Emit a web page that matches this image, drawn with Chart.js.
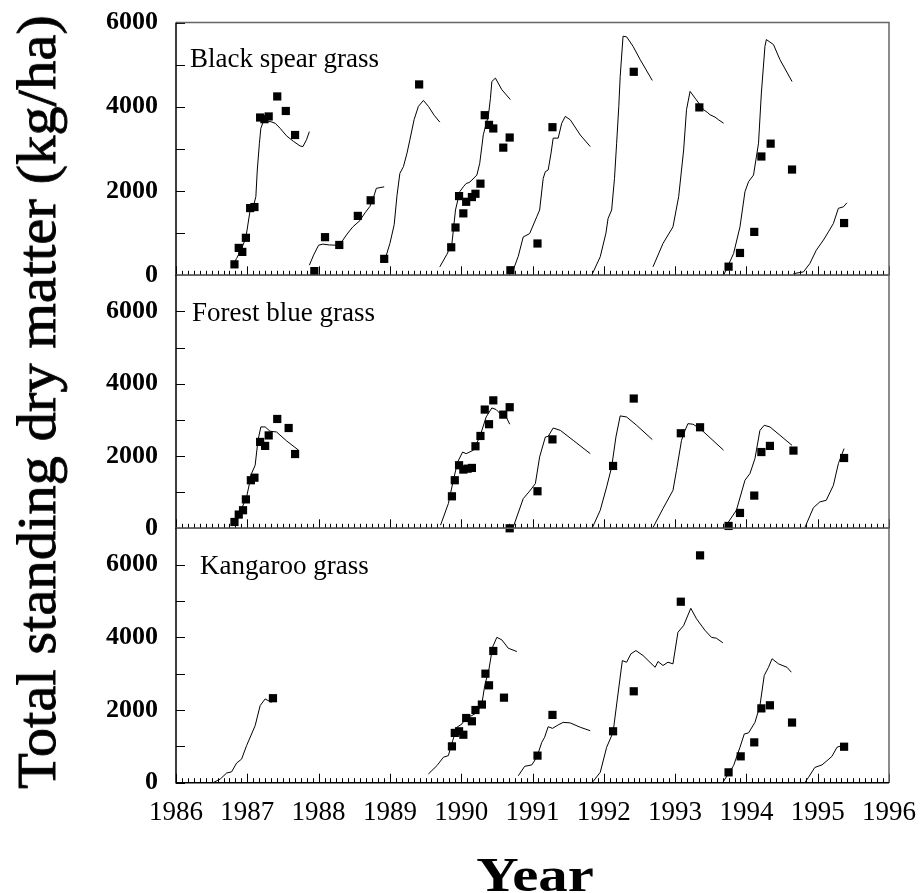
<!DOCTYPE html>
<html>
<head>
<meta charset="utf-8">
<script src="https://cdn.jsdelivr.net/npm/chart.js@4.4.1/dist/chart.umd.min.js"></script>
<style>
  html, body { margin: 0; padding: 0; background: #fff; }
  #wrap { position: relative; width: 920px; height: 893px; overflow: hidden; background: #fff; }
  canvas { position: absolute; left: 0; top: 0; }
  .txt { position: absolute; font-family: 'Liberation Serif', 'Times New Roman', serif; color: #000; white-space: nowrap; line-height: 1; }
</style>
</head>
<body>
<div id="wrap">
  <canvas id="c1" width="920" height="893"></canvas>
  <canvas id="c2" width="920" height="893"></canvas>
  <canvas id="c3" width="920" height="893"></canvas>
  <div class="txt" style="left:190px; top:44.7px; font-size:27px;">Black spear grass</div>
  <div class="txt" style="left:192px; top:299px; font-size:27px;">Forest blue grass</div>
  <div class="txt" style="left:200px; top:552.4px; font-size:27px;">Kangaroo grass</div>
  <div class="txt" style="left:37px; top:401.5px; font-size:54px; -webkit-text-stroke:0.8px #000; transform: translate(-50%,-50%) rotate(-90deg) scaleX(1.085);">Total standing dry matter (kg/ha)</div>
  <div class="txt" style="left:534.5px; top:873.5px; font-size:49px; font-weight:bold; transform: translate(-50%,-50%) scaleX(1.2);">Year</div>
</div>
<script>
// ---------- Axis settings ----------
const yearMin = 1986;
const yearMax = 1996;
const yearTicks = [1986, 1987, 1988, 1989, 1990, 1991, 1992, 1993, 1994, 1995, 1996];
const dmLabels = [0, 2000, 4000, 6000];
const topPanelMax = 6000;
const lowerPanelMax = 7000;

// ---------- Black spear grass ----------
const bsgObsYear = [1986.82,1986.88,1986.93,1986.98,1987.04,1987.10,1987.18,1987.24,1987.30,1987.42,1987.54,1987.67,1987.94,1988.09,1988.29,1988.55,1988.73,1988.92,1989.41,1989.86,1989.92,1989.97,1990.03,1990.07,1990.15,1990.20,1990.27,1990.33,1990.39,1990.45,1990.59,1990.68,1990.69,1991.07,1991.28,1992.42,1993.34,1993.75,1993.91,1994.11,1994.21,1994.34,1994.64,1995.37];
const bsgObsDM = [260,650,555,890,1595,1620,3745,3705,3770,4245,3900,3330,100,905,720,1410,1780,390,4530,665,1135,1880,1470,1745,1857,1935,2175,3800,3570,3485,3030,3270,120,755,3515,4830,3985,205,530,1030,2820,3125,2510,1240];
const bsgModel1986 = [[1986.78,200],[1986.85,400],[1986.92,635],[1986.98,890],[1987.04,1550],[1987.09,1665],[1987.12,1865],[1987.14,2500],[1987.17,3135],[1987.19,3490],[1987.22,3625],[1987.32,3650],[1987.39,3610],[1987.46,3490],[1987.55,3310],[1987.65,3175],[1987.74,3070],[1987.78,3055],[1987.83,3215],[1987.87,3410]];
const bsgModel1987 = [[1987.87,240],[1987.93,480],[1988.00,715],[1988.06,740],[1988.15,720],[1988.25,715],[1988.31,760],[1988.40,980],[1988.48,1150],[1988.58,1300],[1988.65,1480],[1988.72,1635],[1988.77,1850],[1988.81,2065],[1988.86,2080],[1988.92,2100]];
const bsgModel1988 = [[1988.92,310],[1989.00,755],[1989.06,1200],[1989.10,1900],[1989.14,2420],[1989.19,2580],[1989.24,2900],[1989.28,3215],[1989.34,3700],[1989.40,4010],[1989.47,4150],[1989.54,4010],[1989.62,3800],[1989.70,3635]];
const bsgModel1989 = [[1989.70,200],[1989.80,500],[1989.87,755],[1989.92,1550],[1989.98,1985],[1990.03,2100],[1990.07,2180],[1990.11,2200],[1990.15,2260],[1990.22,2380],[1990.26,2660],[1990.31,3335],[1990.35,3600],[1990.38,3770],[1990.41,4200],[1990.43,4600],[1990.48,4680],[1990.57,4405],[1990.69,4170]];
const bsgModel1990 = [[1990.72,80],[1990.80,450],[1990.87,910],[1990.96,990],[1991.06,1390],[1991.10,1550],[1991.15,2300],[1991.18,2460],[1991.22,2500],[1991.26,2900],[1991.29,3255],[1991.36,3255],[1991.41,3610],[1991.46,3770],[1991.53,3690],[1991.67,3330],[1991.81,3055]];
const bsgModel1991 = [[1991.83,0],[1991.95,440],[1992.03,1000],[1992.06,1350],[1992.11,1550],[1992.15,2300],[1992.18,3135],[1992.21,4000],[1992.23,4720],[1992.27,5675],[1992.32,5660],[1992.41,5435],[1992.51,5120],[1992.68,4625]];
const bsgModel1992 = [[1992.69,200],[1992.83,755],[1992.97,1150],[1993.05,1865],[1993.12,2975],[1993.16,3930],[1993.21,4365],[1993.28,4205],[1993.40,3930],[1993.45,3870],[1993.49,3810],[1993.56,3755],[1993.61,3690],[1993.68,3610]];
const bsgModel1993 = [[1993.68,0],[1993.82,515],[1993.91,1150],[1993.98,1985],[1994.03,2220],[1994.10,2380],[1994.17,3135],[1994.21,4325],[1994.26,5435],[1994.28,5595],[1994.38,5475],[1994.47,5120],[1994.64,4600]];
const bsgModel1994 = [[1994.66,40],[1994.80,80],[1994.89,280],[1994.98,595],[1995.08,835],[1995.15,1030],[1995.22,1230],[1995.29,1590],[1995.36,1625],[1995.41,1720]];

// ---------- Forest blue grass ----------
const fbgObsYear = [1986.82,1986.88,1986.94,1986.98,1987.05,1987.10,1987.18,1987.25,1987.30,1987.42,1987.58,1987.67,1989.87,1989.91,1989.97,1990.03,1990.09,1990.15,1990.20,1990.27,1990.33,1990.39,1990.45,1990.59,1990.68,1990.68,1991.07,1991.28,1992.13,1992.42,1993.08,1993.35,1993.75,1993.91,1994.11,1994.21,1994.33,1994.66,1995.37];
const fbgObsDM = [175,380,500,800,1330,1400,2390,2280,2570,3025,2775,2055,885,1330,1745,1625,1650,1670,2270,2555,3285,2880,3540,3145,3350,0,1025,2460,1725,3590,2630,2795,65,425,905,2110,2280,2150,1945];
const fbgModel1986 = [[1986.78,130],[1986.92,545],[1986.99,865],[1987.06,1515],[1987.11,1745],[1987.15,2435],[1987.19,2805],[1987.25,2805],[1987.32,2685],[1987.41,2665],[1987.55,2420],[1987.72,2160]];
const fbgModel1989 = [[1989.71,85],[1989.82,685],[1989.89,1330],[1989.95,1835],[1990.02,2110],[1990.07,2065],[1990.17,2160],[1990.26,2525],[1990.35,3080],[1990.43,3330],[1990.49,3285],[1990.57,3125],[1990.61,3170],[1990.68,2880]];
const fbgModel1990 = [[1990.73,35],[1990.87,820],[1990.96,1030],[1991.04,1235],[1991.10,1975],[1991.18,2525],[1991.22,2545],[1991.29,2775],[1991.39,2710],[1991.57,2435],[1991.81,2065]];
const fbgModel1991 = [[1991.84,20],[1991.95,500],[1992.04,1145],[1992.11,1695],[1992.17,2525],[1992.23,3110],[1992.32,3080],[1992.46,2850],[1992.68,2455]];
const fbgModel1992 = [[1992.69,20],[1992.83,545],[1992.97,1050],[1993.02,1605],[1993.09,2435],[1993.14,2710],[1993.18,2895],[1993.25,2880],[1993.35,2760],[1993.68,2160]];
const fbgModel1993 = [[1993.70,35],[1993.86,500],[1993.98,1330],[1994.05,1515],[1994.12,1930],[1994.19,2710],[1994.25,2850],[1994.33,2805],[1994.47,2575],[1994.64,2295]];
const fbgModel1994 = [[1994.82,20],[1994.94,570],[1995.03,730],[1995.12,775],[1995.22,1190],[1995.29,1790],[1995.37,2205]];

// ---------- Kangaroo grass ----------
const kgObsYear = [1987.36,1989.87,1989.91,1989.97,1990.03,1990.07,1990.15,1990.20,1990.29,1990.34,1990.39,1990.45,1990.60,1991.07,1991.28,1992.13,1992.42,1993.08,1993.35,1993.75,1993.92,1994.11,1994.21,1994.33,1994.64,1995.37];
const kgObsDM = [2325,1000,1370,1415,1320,1780,1690,2000,2150,3000,2680,3625,2340,745,1865,1415,2515,4980,6255,285,725,1110,2045,2130,1655,990];
const kgModel1986 = [[1986.52,0],[1986.62,100],[1986.71,265],[1986.78,300],[1986.85,540],[1986.92,650],[1986.99,1020],[1987.06,1340],[1987.11,1570],[1987.18,2120],[1987.25,2305],[1987.34,2210]];
const kgModel1989 = [[1989.54,240],[1989.66,470],[1989.75,700],[1989.82,745],[1989.88,1155],[1989.94,1525],[1990.01,1615],[1990.07,1800],[1990.15,1845],[1990.22,1935],[1990.29,2170],[1990.33,2670],[1990.39,3130],[1990.44,3730],[1990.50,4000],[1990.57,3930],[1990.66,3700],[1990.78,3610]];
const kgModel1990 = [[1990.80,190],[1990.89,450],[1990.99,490],[1991.06,700],[1991.13,1110],[1991.17,1250],[1991.22,1540],[1991.28,1495],[1991.36,1590],[1991.43,1660],[1991.53,1645],[1991.67,1525],[1991.81,1430]];
const kgModel1991 = [[1991.84,10],[1991.95,285],[1992.04,975],[1992.13,1385],[1992.19,2305],[1992.26,3360],[1992.32,3315],[1992.38,3545],[1992.45,3635],[1992.55,3500],[1992.72,3175],[1992.76,3335],[1992.83,3225],[1992.90,3315],[1992.97,3270],[1993.04,4140],[1993.12,4325],[1993.22,4800],[1993.30,4510],[1993.42,4190],[1993.51,4000],[1993.58,3975],[1993.67,3850]];
const kgModel1993 = [[1993.67,10],[1993.82,470],[1993.91,975],[1993.97,1340],[1994.03,1370],[1994.12,1660],[1994.19,2120],[1994.25,2950],[1994.31,3175],[1994.36,3410],[1994.45,3270],[1994.57,3175],[1994.63,3040]];
const kgModel1994 = [[1994.82,0],[1994.87,145],[1994.96,420],[1995.06,490],[1995.13,605],[1995.20,725],[1995.27,975],[1995.34,1020]];

// ---------- Build charts ----------
Chart.defaults.font.family = "'Liberation Serif', 'Times New Roman', serif";
Chart.defaults.color = '#000';

const frameTicks = {
  id: 'frameTicks',
  afterDatasetsDraw(chart) {
    const ctx = chart.ctx;
    const a = chart.chartArea;
    const xs = chart.scales.x, ys = chart.scales.y;
    ctx.save();
    ctx.strokeStyle = '#000';
    ctx.lineWidth = 1;
    for (let v = 0; v <= ys.max; v += 1000) {
      const y = Math.round(ys.getPixelForValue(v)) + 0.5;
      ctx.beginPath(); ctx.moveTo(a.left, y); ctx.lineTo(a.left + 9, y); ctx.stroke();
    }
    for (let yr = yearMin; yr <= yearMax; yr++) {
      for (let m = 0; m < 12; m++) {
        if (yr === yearMax && m > 0) break;
        const x = Math.round(xs.getPixelForValue(yr + m / 12)) + 0.5;
        const len = m === 0 ? 9 : 4.5;
        ctx.beginPath(); ctx.moveTo(x, a.bottom); ctx.lineTo(x, a.bottom - len); ctx.stroke();
      }
    }
    ctx.lineWidth = 1.5;
    ctx.strokeStyle = '#666';
    ctx.beginPath(); ctx.moveTo(a.left, a.top); ctx.lineTo(a.right, a.top); ctx.lineTo(a.right, a.bottom); ctx.stroke();
    ctx.strokeStyle = '#000';
    ctx.beginPath(); ctx.moveTo(a.left, a.top); ctx.lineTo(a.left, a.bottom); ctx.lineTo(a.right, a.bottom); ctx.stroke();
    ctx.restore();
  }
};

function toXY(pairs) { return pairs.map(p => ({ x: p[0], y: p[1] })); }

function makePanel(id, obsYear, obsDM, seasons, yMax, padTop, padBottom, showX) {
  const datasets = seasons.map(s => ({
    data: toXY(s),
    showLine: true,
    borderColor: '#000',
    borderWidth: 1,
    pointRadius: 0,
    fill: false,
    tension: 0
  }));
  datasets.push({
    data: obsYear.map((x, i) => ({ x: x, y: obsDM[i] })),
    showLine: false,
    pointStyle: 'rect',
    pointRadius: 5.8,
    pointBorderWidth: 0,
    backgroundColor: '#000',
    borderColor: '#000',
    clip: false
  });
  return new Chart(document.getElementById(id), {
    type: 'scatter',
    data: { datasets },
    plugins: [frameTicks],
    options: {
      responsive: false,
      animation: false,
      devicePixelRatio: 1,
      layout: { padding: { left: 0, right: 31, top: padTop, bottom: padBottom } },
      plugins: { legend: { display: false }, tooltip: { enabled: false } },
      scales: {
        x: {
          type: 'linear',
          min: yearMin, max: yearMax,
          display: showX,
          grid: { display: false, drawTicks: false },
          border: { display: false },
          afterBuildTicks: (scale) => { scale.ticks = yearTicks.map(v => ({ value: v })); },
          ticks: { padding: 14, font: { size: 27 }, color: '#000', maxRotation: 0, autoSkip: false,
                   callback: (v) => String(v) },
          afterFit: (scale) => {
            scale.height = showX ? 60 : 0;
            scale.paddingLeft = 0; scale.paddingRight = 0;
          }
        },
        y: {
          type: 'linear',
          min: 0, max: yMax,
          grid: { display: false, drawTicks: false },
          border: { display: false },
          ticks: { stepSize: 1000, padding: 18, font: { size: 26, weight: 'bold' }, color: '#000',
                   callback: (v) => dmLabels.includes(v) ? String(v) : '' },
          afterFit: (scale) => {
            scale.width = 176;
            scale.paddingTop = 0; scale.paddingBottom = 0;
          }
        }
      }
    }
  });
}

makePanel('c1', bsgObsYear, bsgObsDM,
  [bsgModel1986, bsgModel1987, bsgModel1988, bsgModel1989, bsgModel1990, bsgModel1991, bsgModel1992, bsgModel1993, bsgModel1994],
  topPanelMax, 22.5, 893 - 275.3, false);
makePanel('c2', fbgObsYear, fbgObsDM,
  [fbgModel1986, fbgModel1989, fbgModel1990, fbgModel1991, fbgModel1992, fbgModel1993, fbgModel1994],
  lowerPanelMax, 275.3, 893 - 528.3, false);
makePanel('c3', kgObsYear, kgObsDM,
  [kgModel1986, kgModel1989, kgModel1990, kgModel1991, kgModel1993, kgModel1994],
  lowerPanelMax, 528.3, 893 - 782.7 - 60, true);
</script>
</body>
</html>
